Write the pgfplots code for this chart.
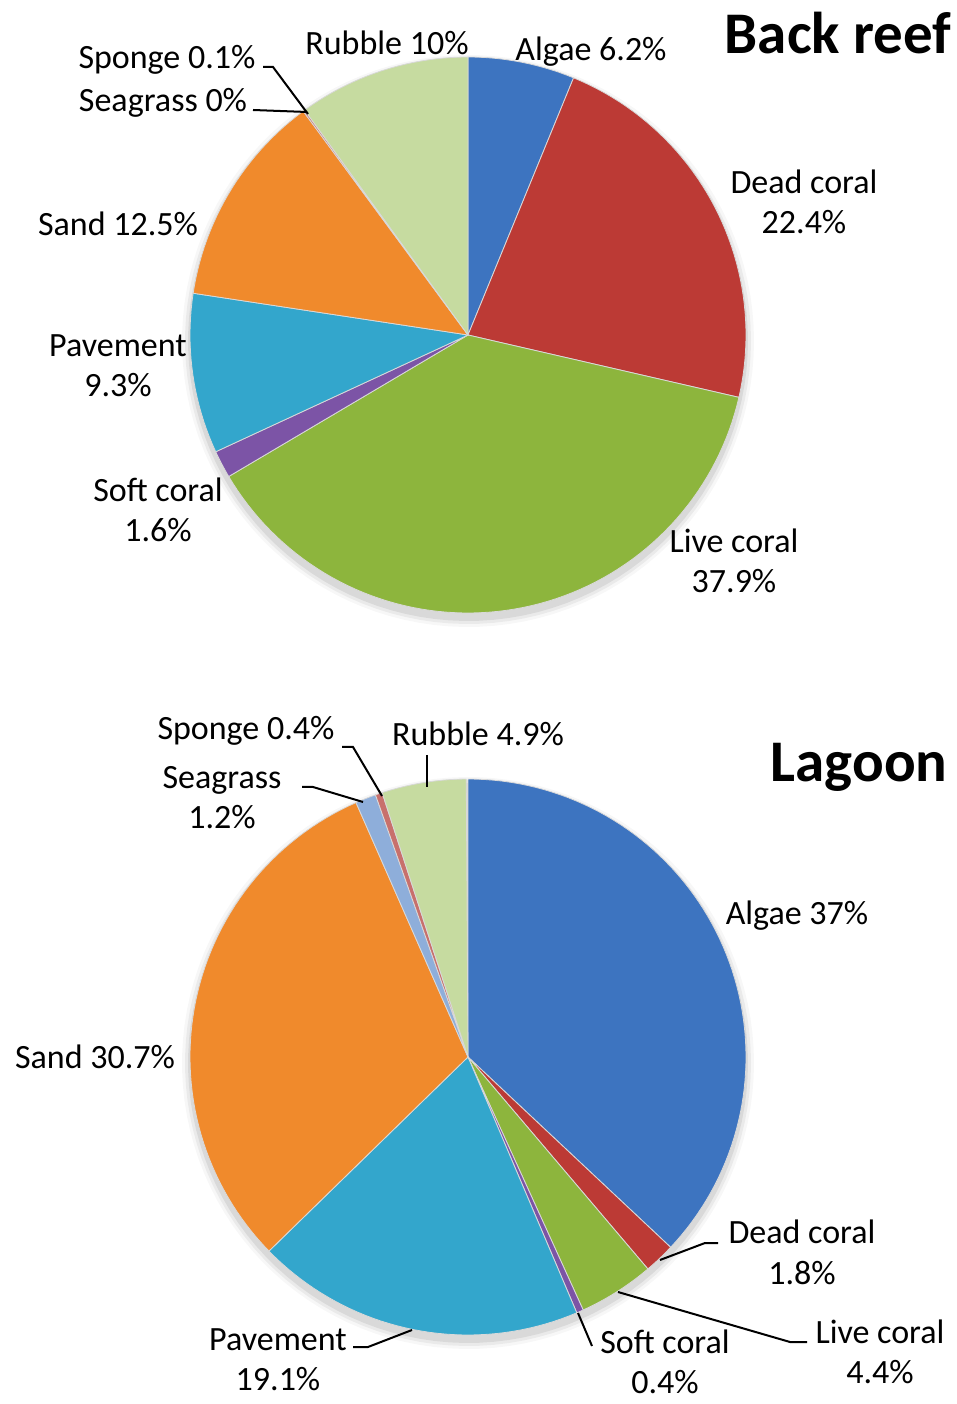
\documentclass[border=0pt]{standalone}
\usepackage{pgfplots}
\pgfplotsset{compat=1.18}
\usepackage{fontspec}
\setmainfont{Carlito}
\definecolor{cAlgae}{HTML}{3D74C0}
\definecolor{cDead}{HTML}{BC3A35}
\definecolor{cLive}{HTML}{8DB53D}
\definecolor{cSoft}{HTML}{7C54A6}
\definecolor{cPave}{HTML}{33A6CC}
\definecolor{cSand}{HTML}{F08A2C}
\definecolor{cSeag}{HTML}{8EAEDA}
\definecolor{cSpon}{HTML}{C8706C}
\definecolor{cRubb}{HTML}{C6DBA0}
\newcommand\pieinit[3]{\def\cx{#1}\def\cy{#2}\def\R{#3}\def\cum{0}}
\newcommand\pieshadow{%
  \foreach \rr/\op in {286/0.03,283/0.05,280/0.07}{%
    \edef\tmp{\noexpand\addplot[draw=none, fill=black, fill opacity=\op, domain=0:360, samples=120] ({\cx+\rr*cos(x)},{\cy-6+\rr*sin(x)});}\tmp}}
\newcommand\slice[2]{%
  \ifdim #1pt>0pt
    \pgfmathsetmacro\sa{90-3.6*(\cum+#1)}%
    \pgfmathsetmacro\sb{90-3.6*\cum}%
    \pgfmathtruncatemacro\ns{3+2*#1}%
    \edef\tmp{\noexpand\addplot[fill=#2, draw=white!85!black, line width=0.4pt, domain=\sa:\sb, samples=\ns] ({\cx+\R*cos(x)},{\cy+\R*sin(x)}) -- (axis cs:\cx,\cy) -- cycle;}%
    \tmp
    \pgfmathsetmacro\cum{\cum+#1}%
  \fi}
\tikzset{lab/.style={align=center, font=\fontsize{17}{20}\selectfont, text height=11pt, text depth=0pt, inner sep=0pt},
  ttl/.style={font=\fontsize{29.5}{33}\selectfont\bfseries, inner sep=0pt, text height=19pt, text depth=0pt}}
\begin{document}
\begin{tikzpicture}
\begin{axis}[x=0.5pt, y=0.5pt, xmin=0, xmax=957, ymin=0, ymax=1404, hide axis, clip=false, scale only axis]
% ---- Back reef (values in %)
\pieinit{468}{1069}{278}
\pieshadow
\slice{6.2}{cAlgae}
\slice{22.4}{cDead}
\slice{37.9}{cLive}
\slice{1.6}{cSoft}
\slice{9.3}{cPave}
\slice{12.5}{cSand}
\slice{0}{cSeag}
\slice{0.1}{cSpon}
\slice{10}{cRubb}
% ---- Lagoon (values in %)
\pieinit{468}{347}{278}
\pieshadow
\slice{37}{cAlgae}
\slice{1.8}{cDead}
\slice{4.4}{cLive}
\slice{0.4}{cSoft}
\slice{19.1}{cPave}
\slice{30.7}{cSand}
\slice{1.2}{cSeag}
\slice{0.4}{cSpon}
\slice{4.9}{cRubb}
% leader lines
\addplot[black, line width=1pt] coordinates {(263,1337) (273,1337) (308,1290)};
\addplot[black, line width=1pt] coordinates {(253,1294) (307,1292)};
\addplot[black, line width=1pt] coordinates {(342,657) (353,657) (382,608)};
\addplot[black, line width=1pt] coordinates {(427,649) (427,617)};
\addplot[black, line width=1pt] coordinates {(302,617) (313,617) (363,602)};
\addplot[black, line width=1pt] coordinates {(718,161) (705,161) (660,144)};
\addplot[black, line width=1pt] coordinates {(807,62) (790,62) (618,112)};
\addplot[black, line width=1pt] coordinates {(592,58) (578,91)};
\addplot[black, line width=1pt] coordinates {(353,57) (368,57) (412,74)};
% labels back reef
\node[lab] at (axis cs:387,1360) {Rubble 10\%};
\node[lab] at (axis cs:591,1354) {Algae 6.2\%};
\node[ttl] at (axis cs:838,1369) {Back reef};
\node[lab] at (axis cs:167,1346) {Sponge 0.1\%};
\node[lab] at (axis cs:163,1303) {Seagrass 0\%};
\node[lab] at (axis cs:804,1181) {Dead coral\\22.4\%};
\node[lab] at (axis cs:118,1179) {Sand 12.5\%};
\node[lab] at (axis cs:118,1018) {Pavement\\9.3\%};
\node[lab] at (axis cs:158,873) {Soft coral\\1.6\%};
\node[lab] at (axis cs:734,822) {Live coral\\37.9\%};
% labels lagoon
\node[lab] at (axis cs:246,675) {Sponge 0.4\%};
\node[lab] at (axis cs:478,669) {Rubble 4.9\%};
\node[lab] at (axis cs:222,586) {Seagrass\\1.2\%};
\node[ttl] at (axis cs:859,641) {Lagoon};
\node[lab] at (axis cs:797,490) {Algae 37\%};
\node[lab] at (axis cs:95,346) {Sand 30.7\%};
\node[lab] at (axis cs:802,131) {Dead coral\\1.8\%};
\node[lab] at (axis cs:880,32) {Live coral\\4.4\%};
\node[lab] at (axis cs:665,22) {Soft coral\\0.4\%};
\node[lab] at (axis cs:278,25) {Pavement\\19.1\%};
\end{axis}
\pgfresetboundingbox
\path (current axis.south west) rectangle (current axis.north east);
\end{tikzpicture}
\end{document}
